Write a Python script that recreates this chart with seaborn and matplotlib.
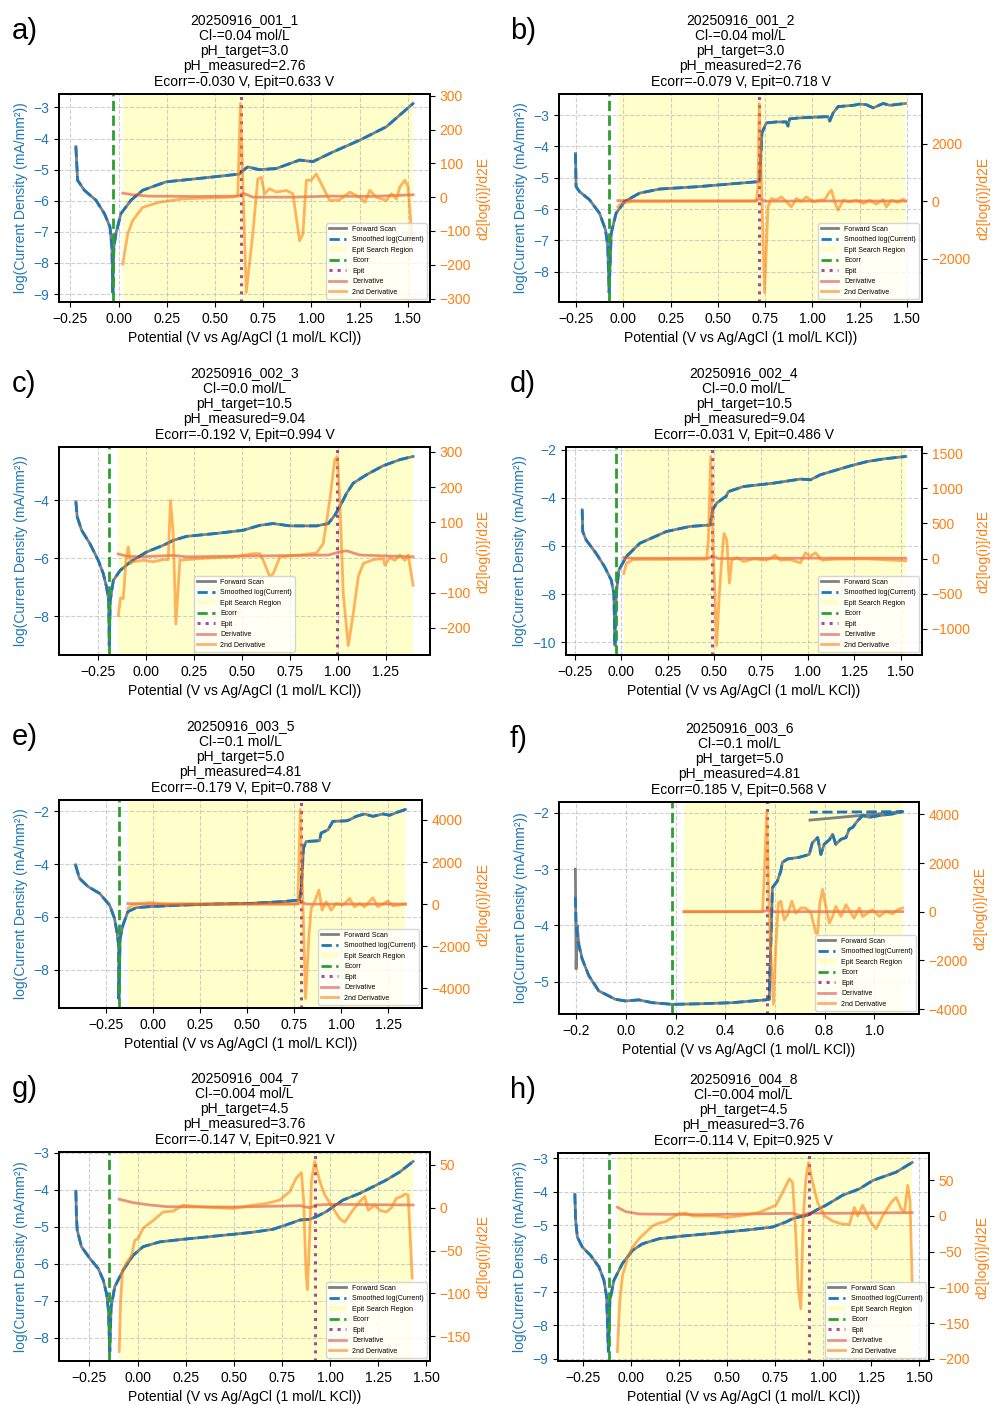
import matplotlib
matplotlib.use('Agg')
import matplotlib.pyplot as plt
import seaborn as sns

# sample info
names = ['20250916_001_1', '20250916_001_2', '20250916_002_3', '20250916_002_4',
         '20250916_003_5', '20250916_003_6', '20250916_004_7', '20250916_004_8']
cl = ['0.04', '0.04', '0.0', '0.0', '0.1', '0.1', '0.004', '0.004']
ph_target = ['3.0', '3.0', '10.5', '10.5', '5.0', '5.0', '4.5', '4.5']
ph_measured = ['2.76', '2.76', '9.04', '9.04', '4.81', '4.81', '3.76', '3.76']
ecorr = [-0.030, -0.079, -0.192, -0.031, -0.179, 0.185, -0.147, -0.114]
epit = [0.633, 0.718, 0.994, 0.486, 0.788, 0.568, 0.921, 0.925]
search_start = [0.021, -0.030, -0.144, 0.013, -0.133, 0.234, -0.095, -0.069]
search_end = [1.528, 1.493, 1.392, 1.527, 1.342, 1.114, 1.431, 1.462]
letters = ['a)', 'b)', 'c)', 'd)', 'e)', 'f)', 'g)', 'h)']

# a) 001_1
a_E = [-0.222, -0.213, -0.178, -0.118, -0.074, -0.045, -0.035, -0.030, -0.025, -0.014, 0.012, 0.064,
       0.125, 0.246, 0.419, 0.627, 0.640, 0.670, 0.731, 0.818, 0.939, 1.008, 1.112, 1.251, 1.389, 1.528]
a_logi = [-4.26, -5.34, -5.66, -5.98, -6.41, -6.84, -7.5, -8.95, -7.5, -7.05, -6.41, -5.98,
          -5.66, -5.39, -5.28, -5.14, -5.05, -4.91, -5.0, -4.96, -4.69, -4.74, -4.43, -4.05, -3.62, -2.87]
a_d1E = [0.021, 0.073, 0.160, 0.400, 0.620, 0.645, 0.696, 0.900, 1.100, 1.300, 1.528]
a_d1 = [12, 7, 3, 2, 3, 12, 0, 0, 3, 2, 7]
a_d2E = [0.021, 0.047, 0.073, 0.125, 0.211, 0.333, 0.592, 0.618, 0.632, 0.662, 0.696, 0.722, 0.740,
         0.757, 0.783, 0.818, 0.870, 0.904, 0.939, 0.956, 0.974, 1.0, 1.025, 1.060, 1.095, 1.147,
         1.199, 1.251, 1.277, 1.303, 1.337, 1.389, 1.415, 1.441, 1.459, 1.485, 1.502, 1.523]
a_d2 = [-198, -109, -69, -30, -15, -5, 0, 5, 277, -282, -109, 54, 59,
        10, 25, 15, 20, 10, -129, -109, 50, 50, 69, 30, -10, -8,
        15, 0, -15, 20, 0, -10, 10, -5, 30, 50, 30, -129]

# b) 001_2
b_E = [-0.254, -0.251, -0.233, -0.180, -0.127, -0.095, -0.083, -0.076, -0.065, -0.039, 0.005, 0.085,
       0.191, 0.403, 0.580, 0.721, 0.733, 0.756, 0.809, 0.862, 0.871, 0.880, 0.933, 1.083, 1.092,
       1.110, 1.136, 1.216, 1.251, 1.286, 1.322, 1.375, 1.410, 1.493]
b_logi = [-4.23, -5.28, -5.44, -5.70, -6.13, -6.66, -7.2, -8.66, -6.77, -6.13, -5.76, -5.49,
          -5.36, -5.28, -5.19, -5.12, -3.57, -3.25, -3.22, -3.22, -3.35, -3.12, -3.09, -3.05, -3.19,
          -2.93, -2.73, -2.69, -2.65, -2.67, -2.77, -2.63, -2.69, -2.63]
b_d1E = [-0.030, 0.100, 0.700, 0.720, 0.750, 1.000, 1.493]
b_d1 = [20, 5, 10, 90, 0, 5, 5]
b_d2E = [-0.030, -0.012, 0.049, 0.703, 0.712, 0.719, 0.733, 0.747, 0.765, 0.783, 0.809, 0.836, 0.862,
         0.889, 0.915, 0.942, 0.968, 1.004, 1.039, 1.065, 1.092, 1.101, 1.118, 1.136, 1.163, 1.198,
         1.233, 1.269, 1.304, 1.339, 1.375, 1.392, 1.419, 1.454, 1.481, 1.493]
b_d2 = [-198, -81, 0, 0, 500, 3404, 0, -3183, -198, 93, 40, 151, -20,
        -198, 93, 0, 151, -20, 30, 50, 326, 384, -20, -314, 30, -20,
        30, -81, 30, -105, 50, -198, 30, -40, 70, 0]

# c) 002_3
c_E = [-0.365, -0.358, -0.335, -0.292, -0.248, -0.222, -0.205, -0.194, -0.191, -0.186, -0.170, -0.135,
       -0.083, 0.003, 0.090, 0.142, 0.212, 0.368, 0.507, 0.594, 0.663, 0.750, 0.889, 0.950, 0.984,
       1.010, 1.045, 1.080, 1.149, 1.236, 1.323, 1.392]
c_logi = [-4.05, -4.57, -5.03, -5.49, -6.07, -6.53, -6.99, -7.46, -9.0, -7.46, -6.76, -6.42,
          -6.13, -5.78, -5.55, -5.38, -5.24, -5.14, -5.03, -4.86, -4.80, -4.88, -4.88, -4.80, -4.51,
          -4.22, -3.76, -3.41, -3.12, -2.81, -2.60, -2.49]
c_d1E = [-0.144, -0.101, -0.031, 0.142, 0.212, 0.950, 1.010, 1.045, 1.115, 1.392]
c_d1 = [10, 4, 2, 6, 2, 7, 16, 19, 7, 2]
c_d2E = [-0.144, -0.132, -0.118, -0.104, -0.092, -0.080, -0.066, -0.014, 0.038, 0.090, 0.116, 0.128,
         0.142, 0.156, 0.177, 0.212, 0.281, 0.455, 0.559, 0.594, 0.611, 0.646, 0.663, 0.698, 0.802,
         0.889, 0.924, 0.958, 0.984, 0.997, 1.010, 1.028, 1.054, 1.080, 1.106, 1.132, 1.184, 1.236,
         1.245, 1.271, 1.297, 1.323, 1.349, 1.366, 1.392]
c_d2 = [-165, -114, -117, -8, 30, -17, -12, -8, -12, -6, -6, 162,
        69, -189, -8, -6, -3, 2, 11, 11, -8, -55, -46, 2, 7,
        13, 40, 164, 278, 287, 164, -103, -250, -160, -55, -17, -6, -3,
        -22, 0, -8, 7, -8, 7, -79]

# d) 002_4
d_E = [-0.210, -0.207, -0.189, -0.135, -0.090, -0.054, -0.040, -0.034, -0.027, -0.013, 0.027, 0.099,
       0.242, 0.368, 0.476, 0.490, 0.512, 0.548, 0.562, 0.575, 0.656, 0.817, 0.961, 1.015, 1.069,
       1.230, 1.320, 1.410, 1.527]
d_logi = [-4.50, -5.40, -5.75, -6.31, -6.86, -7.42, -7.97, -10.14, -7.97, -7.0, -6.44, -5.89,
          -5.40, -5.19, -5.13, -4.50, -4.22, -4.01, -3.94, -3.74, -3.53, -3.39, -3.22, -3.25, -3.04,
          -2.67, -2.49, -2.38, -2.28]
d_d1E = [0.013, 0.060, 0.470, 0.490, 0.520, 1.000, 1.527]
d_d1 = [15, 3, 5, 40, 0, 5, 5]
d_d2E = [0.013, 0.027, 0.063, 0.458, 0.467, 0.480, 0.494, 0.503, 0.512, 0.526, 0.539, 0.551, 0.566,
         0.580, 0.593, 0.620, 0.656, 0.710, 0.781, 0.826, 0.853, 0.907, 0.961, 0.988, 1.015, 1.042,
         1.078, 1.141, 1.320, 1.527]
d_d2 = [-214, -71, -14, -10, 262, 1452, 0, -500, -1238, -500, -24, 357, 262,
        -348, -24, 14, -43, -5, -24, 48, -24, -14, -62, 81, 33, 81,
        -24, -10, -5, -33]

# e) 003_5
e_E = [-0.411, -0.390, -0.345, -0.283, -0.230, -0.204, -0.191, -0.182, -0.181, -0.174, -0.159, -0.133,
       -0.089, -0.018, 0.159, 0.336, 0.513, 0.690, 0.779, 0.788, 0.800, 0.814, 0.885, 0.894, 0.930,
       0.956, 1.027, 1.045, 1.080, 1.124, 1.169, 1.222, 1.257, 1.301, 1.342]
e_logi = [-4.03, -4.54, -4.85, -5.11, -5.55, -6.05, -6.56, -7.06, -9.08, -6.81, -6.31, -5.80,
          -5.65, -5.61, -5.55, -5.51, -5.49, -5.42, -5.36, -4.92, -3.40, -3.15, -3.12, -2.83, -2.71,
          -2.39, -2.37, -2.33, -2.20, -2.11, -2.20, -2.11, -2.16, -2.04, -1.94]
e_d1E = [-0.133, -0.050, 0.770, 0.790, 0.820, 1.342]
e_d1 = [30, 5, 10, 80, 0, 5]
e_d2E = [-0.133, -0.106, -0.018, 0.071, 0.744, 0.770, 0.783, 0.797, 0.811, 0.829, 0.841, 0.859, 0.882,
         0.899, 0.921, 0.947, 0.974, 1.009, 1.045, 1.071, 1.098, 1.124, 1.169, 1.195, 1.248, 1.275,
         1.342]
e_d2 = [-206, -16, 79, 0, 0, 32, 4500, 0, -4487, -1500, -206, 111, 667,
        -286, 111, -286, 32, -48, 270, -127, 32, -127, 302, -127, 143, -79,
        0]

# f) 003_6
f_E = [-0.203, -0.200, -0.196, -0.190, -0.176, -0.149, -0.109, -0.042, -0.001, 0.052, 0.106, 0.187,
       0.294, 0.429, 0.563, 0.577, 0.583, 0.590, 0.610, 0.624, 0.630, 0.651, 0.698, 0.738, 0.751,
       0.772, 0.785, 0.798, 0.819, 0.832, 0.845, 0.866, 0.886, 0.899, 0.913, 0.933, 0.953, 0.980,
       1.020, 1.074, 1.114, 0.741]
f_logi = [-3.00, -4.77, -3.99, -4.29, -4.59, -4.89, -5.16, -5.31, -5.34, -5.32, -5.37, -5.40,
          -5.39, -5.37, -5.32, -5.31, -4.41, -3.33, -3.21, -3.03, -2.88, -2.82, -2.79, -2.74, -2.53,
          -2.44, -2.74, -2.56, -2.48, -2.38, -2.56, -2.47, -2.44, -2.29, -2.26, -2.14, -2.05, -2.08,
          -2.05, -2.02, -1.98, -2.13]
f_smooth = [-3.50, -3.95, -4.15, -4.35, -4.59, -4.89, -5.16, -5.31, -5.34, -5.32, -5.37, -5.40,
            -5.39, -5.37, -5.32, -5.31, -4.41, -3.33, -3.21, -3.03, -2.88, -2.82, -2.79, -2.74, -2.53,
            -2.44, -2.74, -2.56, -2.48, -2.38, -2.56, -2.47, -2.44, -2.29, -2.26, -2.14, -2.05, -2.08,
            -2.05, -2.02, -1.98, -1.99]
f_d1E = [0.234, 0.550, 0.575, 0.600, 1.114]
f_d1 = [0, 5, 60, 0, 5]
f_d2E = [0.234, 0.550, 0.556, 0.567, 0.577, 0.583, 0.594, 0.603, 0.614, 0.624, 0.637, 0.651, 0.668,
         0.684, 0.704, 0.724, 0.745, 0.765, 0.772, 0.781, 0.792, 0.802, 0.819, 0.832, 0.845, 0.866,
         0.886, 0.906, 0.919, 0.940, 0.953, 0.973, 0.993, 1.020, 1.047, 1.074, 1.094, 1.114]
f_d2 = [0, 0, 1194, 4111, 0, -1583, -3806, -1583, 361, 430, -333, -125, 430,
        -56, 153, 153, -56, -889, -889, 361, 917, 361, -472, -194, 222, -194,
        292, -56, -264, 153, -194, -56, 83, -194, 14, -83, 83, 153]

# g) 004_7
g_E = [-0.320, -0.317, -0.313, -0.291, -0.247, -0.204, -0.178, -0.161, -0.151, -0.144, -0.137, -0.118,
       -0.074, -0.022, 0.029, 0.116, 0.237, 0.410, 0.583, 0.704, 0.773, 0.843, 0.894, 0.929, 0.981,
       1.016, 1.067, 1.154, 1.223, 1.292, 1.362, 1.431]
g_logi = [-4.04, -4.73, -5.09, -5.54, -5.86, -6.13, -6.44, -6.80, -7.25, -8.37, -7.16, -6.62,
          -6.17, -5.77, -5.54, -5.41, -5.34, -5.25, -5.16, -5.07, -4.95, -4.82, -4.80, -4.73, -4.59,
          -4.46, -4.28, -4.10, -3.92, -3.74, -3.52, -3.24]
g_d1E = [-0.095, -0.022, 0.064, 0.151, 0.497, 0.843, 0.894, 0.929, 1.016, 1.431]
g_d1 = [9.9, 5.9, 3.2, 1.2, 0.8, 2.4, 0, 3.2, 3.9, 3.2]
g_d2E = [-0.095, -0.088, -0.078, -0.057, -0.031, -0.014, 0.003, 0.029, 0.081, 0.133, 0.185, 0.237,
         0.324, 0.497, 0.600, 0.670, 0.739, 0.791, 0.825, 0.851, 0.863, 0.874, 0.882, 0.894, 0.903,
         0.920, 0.946, 0.972, 1.016, 1.050, 1.076, 1.111, 1.154, 1.180, 1.197, 1.232, 1.258, 1.292,
         1.318, 1.344, 1.370, 1.388, 1.405, 1.426]
g_d2 = [-168, -111, -74, -64, -56, -38, -36, -24, -15, -5, -4, 3,
        1, -1, 3, 5, 9, 19, 35, 41, 7, -72, -96, -32, 31,
        54, 31, 15, -1, -13, -17, -5, 7, 13, -3, 3, -3, -5,
        0, 11, 13, 16, 15, -82]

# h) 004_8
h_E = [-0.290, -0.286, -0.277, -0.251, -0.208, -0.165, -0.139, -0.125, -0.116, -0.108, -0.087, -0.043,
       0.009, 0.061, 0.147, 0.269, 0.442, 0.616, 0.737, 0.806, 0.841, 0.876, 0.919, 0.962, 1.014,
       1.101, 1.188, 1.257, 1.379, 1.462]
h_logi = [-4.08, -4.86, -5.36, -5.66, -5.91, -6.25, -6.65, -7.15, -8.78, -7.25, -6.65, -6.15,
          -5.76, -5.56, -5.41, -5.33, -5.24, -5.14, -5.06, -4.91, -4.81, -4.76, -4.71, -4.56, -4.41,
          -4.11, -3.92, -3.67, -3.42, -3.13]
h_d1E = [-0.069, -0.026, 0.043, 0.355, 0.841, 0.884, 0.927, 1.048, 1.462]
h_d1 = [12.2, 6.1, 2.8, 1.9, 3.7, 0.5, 4.2, 3.7, 4.7]
h_d2E = [-0.069, -0.057, -0.043, -0.017, 0.009, 0.043, 0.078, 0.113, 0.147, 0.182, 0.217, 0.251,
         0.286, 0.321, 0.442, 0.494, 0.564, 0.668, 0.754, 0.789, 0.824, 0.841, 0.858, 0.870, 0.884,
         0.896, 0.910, 0.924, 0.945, 0.971, 1.006, 1.049, 1.092, 1.136, 1.162, 1.179, 1.205, 1.222,
         1.248, 1.275, 1.309, 1.353, 1.379, 1.405, 1.422, 1.439, 1.451, 1.462]
h_d2 = [-190, -121, -84, -60, -44, -32, -23, -14, -10, -8, -2, 3,
        4, 0, 0, -2, 0, 5, 15, 33, 52, 47, -28, -100, -130,
        -4, 52, 75, 47, 19, 0, -7, -11, -12, 12, 0, 15, 5,
        -9, -18, 0, 19, 26, 10, 5, 43, 20, -91]

panels = [
    (a_E, a_logi, a_logi, a_d1E, a_d1, a_d2E, a_d2),
    (b_E, b_logi, b_logi, b_d1E, b_d1, b_d2E, b_d2),
    (c_E, c_logi, c_logi, c_d1E, c_d1, c_d2E, c_d2),
    (d_E, d_logi, d_logi, d_d1E, d_d1, d_d2E, d_d2),
    (e_E, e_logi, e_logi, e_d1E, e_d1, e_d2E, e_d2),
    (f_E, f_logi, f_smooth, f_d1E, f_d1, f_d2E, f_d2),
    (g_E, g_logi, g_logi, g_d1E, g_d1, g_d2E, g_d2),
    (h_E, h_logi, h_logi, h_d1E, h_d1, h_d2E, h_d2),
]

# axes boxes in pixels (left, top, right, bottom)
boxes = [(59, 94, 430, 302), (559, 94, 922, 302),
         (59, 447, 430, 655), (566, 447, 922, 655),
         (59, 800, 422, 1008), (559, 802, 919, 1014),
         (59, 1152, 430, 1361), (558, 1153, 929, 1361)]
legend_locs = ['lower right', 'lower right', 'lower center', 'lower right',
               'lower right', 'lower right', 'lower right', 'lower right']

plt.rcParams['font.family'] = ['Liberation Sans', 'DejaVu Sans']
plt.rcParams['font.size'] = 10
plt.rcParams['axes.linewidth'] = 1.3

W, H = 992, 1405
fig = plt.figure(figsize=(W / 100, H / 100), dpi=100)

for i, (E, logi, smooth, d1E, d1, d2E, d2) in enumerate(panels):
    l, t, r, b = boxes[i]
    ax = fig.add_axes([l / W, 1 - b / H, (r - l) / W, (b - t) / H])

    sns.lineplot(x=E, y=logi, ax=ax, color='gray', linewidth=2, sort=False,
                 estimator=None, legend=False)
    h_fwd = ax.lines[-1]
    sns.lineplot(x=E, y=smooth, ax=ax, color='tab:blue', linewidth=2, linestyle='--',
                 sort=False, estimator=None, legend=False)
    h_smooth = ax.lines[-1]
    h_span = ax.axvspan(search_start[i], search_end[i], color='yellow', alpha=0.2, lw=0)
    h_ecorr = ax.axvline(ecorr[i], color='tab:green', linestyle='--', linewidth=2)
    h_epit = ax.axvline(epit[i], color='purple', alpha=0.7, linestyle=':', linewidth=2.2)

    ax.set_xlabel('Potential (V vs Ag/AgCl (1 mol/L KCl))')
    ax.set_ylabel('log(Current Density (mA/mm²))', color='tab:blue')
    ax.tick_params(axis='y', labelcolor='tab:blue')
    ax.grid(True, linestyle='--', alpha=0.6)

    ax2 = ax.twinx()
    sns.lineplot(x=d1E, y=d1, ax=ax2, color='tab:red', alpha=0.5, linewidth=2,
                 sort=False, estimator=None, legend=False)
    h_d1 = ax2.lines[-1]
    sns.lineplot(x=d2E, y=d2, ax=ax2, color='tab:orange', alpha=0.6, linewidth=2,
                 sort=False, estimator=None, legend=False)
    h_d2 = ax2.lines[-1]
    ax2.set_ylabel('d2[log(i)]/d2E', color='tab:orange')
    ax2.tick_params(axis='y', labelcolor='tab:orange')
    for sp in ax2.spines.values():
        sp.set_linewidth(1.3)

    ax2.legend([h_fwd, h_smooth, h_span, h_ecorr, h_epit, h_d1, h_d2],
               ['Forward Scan', 'Smoothed log(Current)', 'Epit Search Region', 'Ecorr',
                'Epit', 'Derivative', '2nd Derivative'],
               loc=legend_locs[i], fontsize=5, handlelength=2.5)

    ax.set_title(f'{names[i]}\nCl-={cl[i]} mol/L\npH_target={ph_target[i]}\n'
                 f'pH_measured={ph_measured[i]}\nEcorr={ecorr[i]:.3f} V, Epit={epit[i]:.3f} V',
                 fontsize=10, linespacing=1.12)

    fig.text((12 if i % 2 == 0 else 510) / W, 1 - (t - 63) / H, letters[i],
             fontsize=21, ha='left', va='center')

fig.savefig('out.png', dpi=100)
